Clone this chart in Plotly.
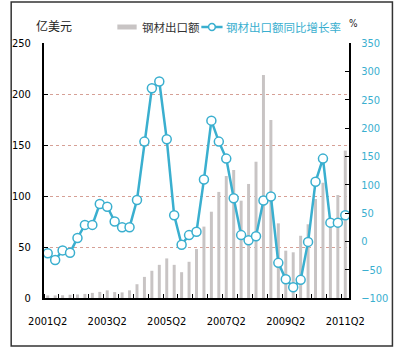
import plotly.graph_objects as go

quarters = []
for yr in range(2001, 2012):
    for q in range(1, 5):
        quarters.append(f"{yr}Q{q}")
quarters = quarters[1:42]  # 2001Q2 .. 2011Q2

export_value = [2.5, 2.5, 2.7, 3.2, 3.5, 4.0, 5.0, 6.0, 7.5, 5.8,
                5.5, 7.5, 13.5, 20.7, 26.7, 32.5, 38.8, 32.5, 25.3, 35.5,
                48.0, 70.0, 84.6, 104.0, 119.6, 125.5, 95.4, 111.8, 133.6, 218.6,
                174.5, 73.2, 46.4, 44.8, 61.0, 72.3, 97.0, 113.0, 75.0, 101.0,
                144.5]
yoy_growth = [-21, -33, -16, -20, 6, 29, 29, 66, 61, 35,
              25, 25, 73, 176, 270, 282, 180, 46, -6, 11,
              17, 109, 213, 176, 146, 76, 11, 2, 9, 72,
              79, -38, -67, -81, -68, -1, 105, 146, 33, 33,
              46]

tick_labels = ["2001Q2", "2003Q2", "2005Q2", "2007Q2", "2009Q2", "2011Q2"]
left_ticks = [0, 50, 100, 150, 200, 250]
right_ticks = [-100, -50, 0, 50, 100, 150, 200, 250, 300, 350]

TEAL = "#3AAFCF"
GRAY = "#C8C4C4"
NARROW = "Liberation Sans Narrow, Arial Narrow, DejaVu Sans Condensed, sans-serif"
CJK = "Noto Sans CJK SC, sans-serif"

xidx = list(range(len(quarters)))
tickvals = [quarters.index(t) for t in tick_labels]

fig = go.Figure()
fig.add_trace(go.Bar(x=xidx, y=export_value, marker=dict(color=GRAY, line=dict(width=0)),
                     name="钢材出口额", yaxis="y"))
fig.add_trace(go.Scatter(x=xidx, y=yoy_growth, mode="lines+markers", name="钢材出口额同比增长率",
                         line=dict(color=TEAL, width=2.5),
                         marker=dict(symbol="circle", size=9, color="white",
                                     line=dict(color=TEAL, width=1.5)),
                         yaxis="y2"))

W, H = 400, 351
L, R, T, B = 36, 48, 43, 53
pw, ph = W - L - R, H - T - B


def px(x):
    return (x - L) / pw


def py(y):
    return (H - B - y) / ph


shapes = [
    # outer frame
    dict(type="rect", xref="paper", yref="paper", x0=px(2), x1=px(397), y0=py(346), y1=py(2),
         line=dict(color="#333333", width=1.5)),
    # legend swatches
    dict(type="rect", xref="paper", yref="paper", x0=px(112), x1=px(132), y0=py(29.5), y1=py(24.5),
         fillcolor=GRAY, line=dict(width=0)),
    dict(type="line", xref="paper", yref="paper", x0=px(199), x1=px(221), y0=py(27), y1=py(27),
         line=dict(color=TEAL, width=2.5)),
    dict(type="circle", xref="paper", yref="paper", x0=px(206.5), x1=px(213.5), y0=py(30.5), y1=py(23.5),
         fillcolor="white", line=dict(color=TEAL, width=1.5)),
]

annotations = [
    dict(text="亿美元", xref="paper", yref="paper", x=px(26), y=py(25), xanchor="left", yanchor="middle",
         showarrow=False, font=dict(family=CJK, size=12, color="#222222")),
    dict(text="%", xref="paper", yref="paper", x=px(357), y=py(23), xanchor="center", yanchor="middle",
         showarrow=False, font=dict(family=NARROW, size=10, color="#222222")),
    dict(text="钢材出口额", xref="paper", yref="paper", x=px(135), y=py(27), xanchor="left", yanchor="middle",
         showarrow=False, font=dict(family=CJK, size=11.5, color="#333333")),
    dict(text="钢材出口额同比增长率", xref="paper", yref="paper", x=px(223), y=py(27), xanchor="left",
         yanchor="middle", showarrow=False, font=dict(family=CJK, size=11.5, color=TEAL)),
]

fig.update_layout(
    width=W, height=H,
    margin=dict(l=L, r=R, t=T, b=B),
    paper_bgcolor="white", plot_bgcolor="white",
    showlegend=False,
    bargap=0.6,
    shapes=shapes,
    annotations=annotations,
    xaxis=dict(range=[-0.5, len(quarters) - 0.5], tickvals=tickvals, ticktext=tick_labels,
               showgrid=False, zeroline=False, showline=True, linecolor="black", linewidth=2,
               ticks="", ticklabelstandoff=12,
               minor=dict(tick0=1.5, dtick=2, ticks="inside", ticklen=4, tickcolor="black", showgrid=False),
               tickfont=dict(family=NARROW, size=11, color="black")),
    yaxis=dict(range=[0, 250], tickvals=left_ticks, showgrid=True, gridcolor="rgb(214,160,150)",
               griddash="dot", gridwidth=1, zeroline=False, showline=True, linecolor="black", linewidth=2,
               ticks="inside", ticklen=4, tickcolor="black", ticklabelstandoff=9,
               tickfont=dict(family=NARROW, size=11, color="black")),
    yaxis2=dict(range=[-100, 350], tickvals=right_ticks, overlaying="y", side="right", showgrid=False,
                zeroline=False, showline=True, linecolor="black", linewidth=2,
                ticks="inside", ticklen=4, tickcolor="black", ticklabelstandoff=8,
                tickfont=dict(family=NARROW, size=11, color=TEAL)),
)

fig.write_html("out.html")
